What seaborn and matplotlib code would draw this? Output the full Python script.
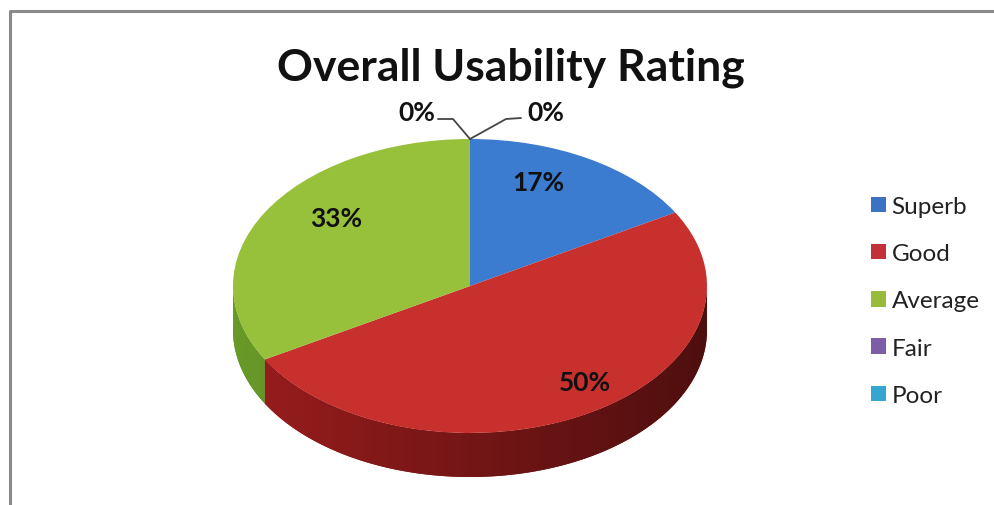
import numpy as np
import matplotlib
matplotlib.use("Agg")
import matplotlib.pyplot as plt
import seaborn as sns
from matplotlib.patches import Patch, Polygon
from matplotlib.lines import Line2D
from matplotlib.transforms import Affine2D
from matplotlib.colors import to_rgb

# ---- data ----
categories = ["Superb", "Good", "Average", "Fair", "Poor"]
values = [16.67, 50.0, 33.33, 0.0, 0.0]
pct_labels = ["17%", "50%", "33%", "0%", "0%"]
title = "Overall Usability Rating"

# ---- style ----
top_colors = ["#3b7bd0", "#c8302d", "#97c13b", "#7b5ea6", "#3cb2d6"]
side_colors = ["#1f4a85", "#8a1a1a", "#5e8a24", "#4a3670", "#20708a"]
legend_colors = ["#3b72c4", "#c2303a", "#97bb3c", "#7b5ea6", "#34a6cf"]

sns.set_theme(style="white")
plt.rcParams["font.family"] = ["Lato", "DejaVu Sans"]

W, H = 995, 506
fig = plt.figure(figsize=(W / 100, H / 100), dpi=100)
fig.patch.set_facecolor("white")
ax = fig.add_axes([0, 0, 1, 1])

# pie geometry in pixel-like data units (y up)
cx, cy = 470.0, H - 287.0
rx, ry = 237.0, 147.0
depth = 44.0

tr = Affine2D().scale(rx, ry).translate(cx, cy) + ax.transData

# angles
fr = np.array(values) / np.sum(values)
cum = np.concatenate([[0], np.cumsum(fr)])
start_deg = 90 - 360 * cum[:-1]
end_deg = 90 - 360 * cum[1:]

# side walls (front half only), gradient image clipped to wall polygon
xg = np.linspace(cx - rx, cx + rx, 400)
shade = 1.12 - 0.55 * ((xg - cx) / rx + 1) / 2
for i in range(len(values)):
    if fr[i] <= 0:
        continue
    t = np.radians(np.linspace(end_deg[i], start_deg[i], 600))
    t = t[np.sin(t) <= 0]
    if len(t) < 2:
        continue
    top_pts = np.column_stack([cx + rx * np.cos(t), cy + ry * np.sin(t)])
    bot_pts = top_pts[::-1] - np.array([0, depth])
    poly = Polygon(np.vstack([top_pts, bot_pts]), closed=True, facecolor=side_colors[i],
                   edgecolor="none", zorder=1)
    ax.add_patch(poly)
    base = np.array(to_rgb(side_colors[i]))
    img = np.clip(base[None, None, :] * shade[None, :, None], 0, 1)
    img = np.repeat(img, 2, axis=0)
    im = ax.imshow(img, extent=[cx - rx, cx + rx, cy - ry - depth, cy], aspect="auto",
                   zorder=1.5, interpolation="bilinear")
    im.set_clip_path(poly)

# top face via pie
wedges, _ = ax.pie(values, colors=top_colors, startangle=90, counterclock=False,
                   radius=1, center=(0, 0), wedgeprops=dict(linewidth=0))
for w in wedges:
    w.set_transform(tr)
    w.set_zorder(2)

# in-slice labels
lab_fx = [0.58, 0.97, 0.652]
lab_fy = [0.817, 0.753, 0.92]
for i in range(3):
    mid = np.radians((start_deg[i] + end_deg[i]) / 2)
    x = cx + lab_fx[i] * rx * np.cos(mid)
    y = cy + lab_fy[i] * ry * np.sin(mid)
    ax.text(x, y, pct_labels[i], ha="center", va="center", fontsize=19,
            fontweight="bold", color="#111111", zorder=5)

# zero labels with leader lines from the top point
tx, ty = cx, cy + ry
ax.plot([tx, tx - 17, tx - 32], [ty, ty + 20, ty + 20], color="#454545", lw=1.3, zorder=4)
ax.plot([tx, tx + 36, tx + 51], [ty, ty + 20, ty + 21], color="#454545", lw=1.3, zorder=4)
ax.text(tx - 53, ty + 27, pct_labels[3], ha="center", va="center", fontsize=19,
        fontweight="bold", color="#111111")
ax.text(tx + 76, ty + 27, pct_labels[4], ha="center", va="center", fontsize=19,
        fontweight="bold", color="#111111")

ax.set_xlim(0, W)
ax.set_ylim(0, H)
ax.set_aspect("auto")
ax.axis("off")

# title
fig.text(511 / W, 1 - 80 / H, title, ha="center", va="baseline", fontsize=32,
         fontweight="bold", color="#111111")

# legend
handles = [Patch(facecolor=c, edgecolor="none") for c in legend_colors]
leg = fig.legend(handles, categories, loc="upper left",
                 bbox_to_anchor=(871 / W, 1 - 197 / H), frameon=False,
                 fontsize=17.5, handlelength=0.6, handleheight=0.6,
                 handletextpad=0.25, labelspacing=1.08, borderpad=0, borderaxespad=0)
for t in leg.get_texts():
    t.set_color("#222222")

# outer frame
fig.add_artist(Line2D([10 / W, 10 / W, 1.0], [0, 1 - 12 / H, 1 - 12 / H],
                      transform=fig.transFigure, color="#8a8a8a", lw=2.2))

fig.savefig("out.png", dpi=100)
